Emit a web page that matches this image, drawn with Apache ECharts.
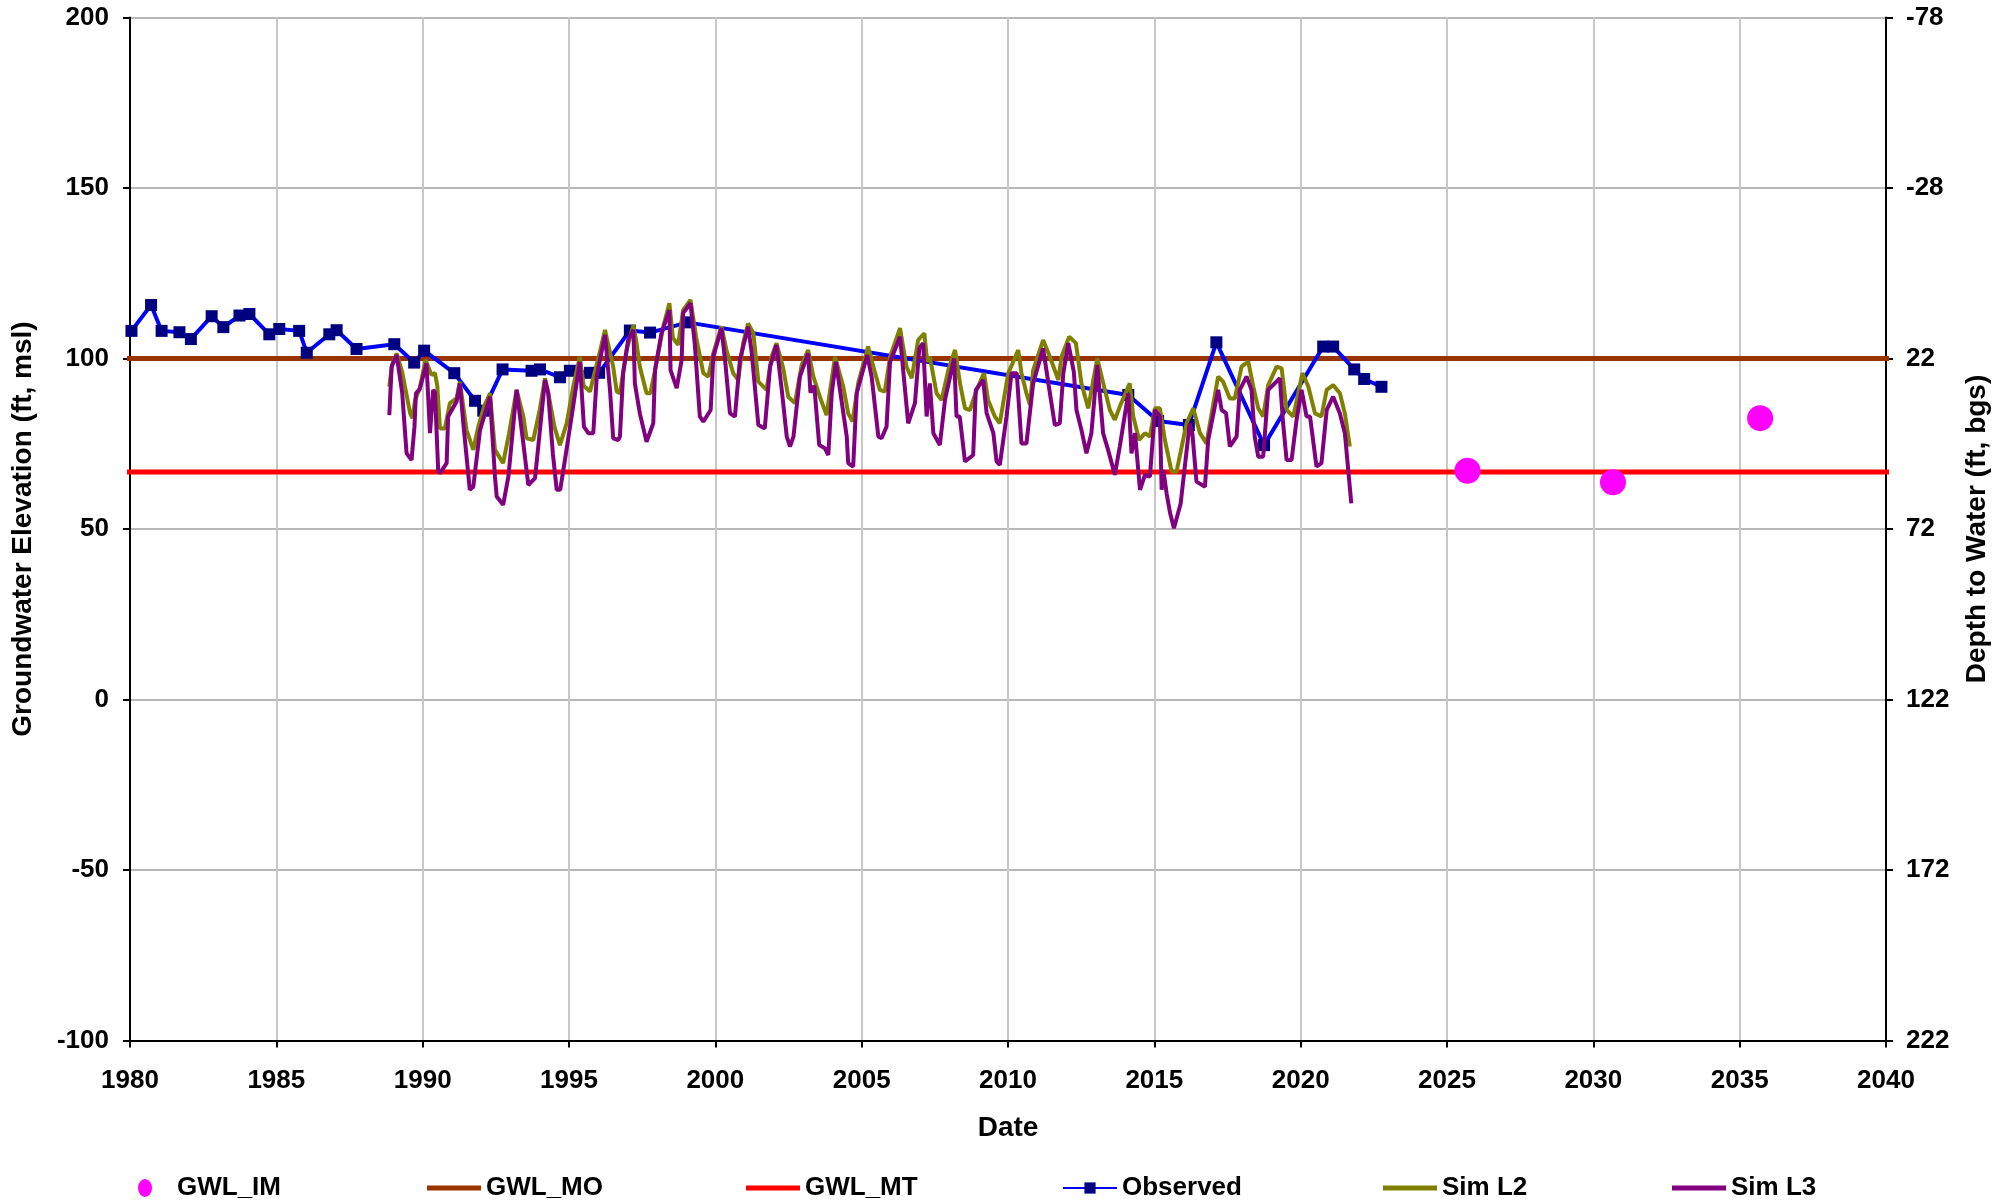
<!DOCTYPE html>
<html><head><meta charset="utf-8">
<script src="https://cdn.jsdelivr.net/npm/echarts@6/dist/echarts.min.js"></script>
<style>html,body{margin:0;padding:0;background:#fff}#c{width:2006px;height:1202px}</style>
</head><body><div id="c"></div>
<script>
// ---------- DATA ----------
const xTickLabels = ['1980','1985','1990','1995','2000','2005','2010','2015','2020','2025','2030','2035','2040'];
const leftTickLabels = ['-100','-50','0','50','100','150','200'];
const rightTickLabels = ['222','172','122','72','22','-28','-78'];

const gwlIM = [[2025.7,67.1],[2030.67,63.7],[2035.7,82.5]];
const gwlMO = [[1979.5,100],[2040.55,100]];
const gwlMT = [[1979.5,66.7],[2040.55,66.7]];

const observed = [[1979.45,107.6],[1980.05,108.1],[1980.72,115.7],[1981.08,108.1],[1981.69,107.7],[1982.08,105.7],[1982.79,112.4],[1983.19,109.2],[1983.74,112.6],[1984.08,113.05],[1984.76,107.1],[1985.1,108.65],[1985.78,108.1],[1986.04,101.7],[1986.81,107.1],[1987.06,108.3],[1987.74,102.8],[1989.03,104.2],[1989.71,98.8],[1990.05,102.3],[1991.08,95.7],[1991.79,87.6],[1992.07,84.7],[1992.73,96.8],[1993.72,96.4],[1994.01,96.8],[1994.69,94.5],[1995.03,96.4],[1995.72,95.8],[1996.03,95.8],[1997.08,108.2],[1997.77,107.6],[1999.05,110.6],[2014.11,89.3],[2015.13,81.7],[2016.18,80.5],[2017.12,104.75],[2018.75,74.6],[2020.77,103.5],[2021.11,103.5],[2021.83,96.8],[2022.17,94.0],[2022.76,91.7]];

const simL2 = [[1988.86,91.7],[1988.95,98],[1989.11,101.5],[1989.3,96],[1989.57,84],[1989.65,82.5],[1989.74,87.8],[1989.9,91.3],[1990.1,99.6],[1990.3,95.2],[1990.42,95.7],[1990.5,92],[1990.59,79.5],[1990.76,79.5],[1990.93,86.9],[1991.16,88.3],[1991.27,93.2],[1991.5,79],[1991.73,73.2],[1991.9,80],[1992.1,86],[1992.3,89.8],[1992.47,73.2],[1992.75,69.3],[1992.95,78],[1993.21,90.8],[1993.44,83],[1993.55,76.6],[1993.78,76.1],[1994.0,85],[1994.18,94.2],[1994.29,90],[1994.5,80],[1994.69,74.6],[1994.92,81],[1995.15,92],[1995.37,100.5],[1995.5,92],[1995.72,90.3],[1995.85,95],[1996.0,100],[1996.23,108.4],[1996.51,97.6],[1996.63,90.3],[1996.74,89.8],[1996.97,102.5],[1997.2,109.8],[1997.3,105],[1997.42,97.6],[1997.65,89.8],[1997.78,89.8],[1997.94,96.6],[1998.22,109.3],[1998.43,116.2],[1998.55,106],[1998.73,104],[1998.9,114.2],[1999.15,117.2],[1999.35,106],[1999.59,95.7],[1999.76,94.7],[1999.93,101.5],[2000.21,109.4],[2000.38,102.5],[2000.61,95.7],[2000.78,93.7],[2000.95,104.5],[2001.12,110.3],[2001.3,107.4],[2001.47,93.2],[2001.75,90.8],[2001.92,100.5],[2002.09,104.5],[2002.32,97.1],[2002.49,88.8],[2002.72,86.9],[2002.95,98.1],[2003.17,102.5],[2003.35,94.7],[2003.57,88.8],[2003.8,83.4],[2004.09,100.5],[2004.37,91.8],[2004.54,83.9],[2004.69,81.5],[2004.88,92.7],[2005.22,103.5],[2005.45,96],[2005.62,90.8],[2005.79,90.3],[2005.97,100.5],[2006.31,108.9],[2006.53,97.6],[2006.71,94.2],[2006.93,105.4],[2007.14,107.4],[2007.24,99],[2007.33,100.5],[2007.56,89.8],[2007.73,87.8],[2007.96,96.6],[2008.19,102.5],[2008.36,92.7],[2008.53,85.4],[2008.7,84.9],[2008.93,90.8],[2009.18,95.7],[2009.32,87.8],[2009.55,83],[2009.72,81],[2010.01,95.7],[2010.35,102.5],[2010.46,95.7],[2010.63,89.8],[2010.75,86.4],[2010.86,96.6],[2011.2,105.4],[2011.43,100.5],[2011.72,93.7],[2011.83,100.5],[2012.09,106.4],[2012.32,104.5],[2012.51,92.7],[2012.74,85.4],[2013.05,100],[2013.31,90.8],[2013.48,84.9],[2013.65,82],[2013.82,85.9],[2014.16,92.7],[2014.28,83],[2014.48,76.1],[2014.68,78.1],[2014.85,77.1],[2015.02,85.4],[2015.19,85.4],[2015.36,76.1],[2015.59,66.8],[2015.76,66.8],[2016.1,81],[2016.33,85.4],[2016.56,78.1],[2016.78,75.1],[2016.9,81],[2017.18,94.7],[2017.35,93.2],[2017.58,88.3],[2017.75,88.3],[2017.98,97.6],[2018.21,99.1],[2018.38,91.8],[2018.55,85.4],[2018.72,83],[2018.89,92.2],[2019.18,97.6],[2019.35,97.1],[2019.52,84.9],[2019.75,83],[2020.06,95.7],[2020.26,91.8],[2020.49,83.9],[2020.71,83],[2020.89,90.8],[2021.11,92.2],[2021.34,89.8],[2021.51,83.9],[2021.68,74.2]];

const simL3 = [[1988.86,83.4],[1988.94,97.6],[1989.11,101],[1989.3,90],[1989.45,72.2],[1989.62,70.2],[1989.72,80],[1989.77,89.8],[1989.9,91],[1990.13,98.6],[1990.25,78.1],[1990.36,90.8],[1990.42,90],[1990.53,67.3],[1990.59,66.3],[1990.82,69.3],[1990.87,83],[1991.16,87.4],[1991.27,92.7],[1991.4,80],[1991.61,61.5],[1991.73,62.4],[1991.96,79],[1992.3,88.8],[1992.47,65.4],[1992.53,59.5],[1992.75,57.1],[1992.93,65.4],[1993.21,90.8],[1993.44,75.1],[1993.61,62.9],[1993.84,64.9],[1994.18,93.7],[1994.29,89.8],[1994.45,72],[1994.58,61.5],[1994.7,61.5],[1994.86,70.2],[1995.09,83],[1995.37,99],[1995.51,80],[1995.66,78.1],[1995.83,78.1],[1995.95,95],[1996.23,106.9],[1996.4,90.8],[1996.51,76.6],[1996.68,76.1],[1996.74,77.1],[1996.85,95.7],[1997.02,105.4],[1997.2,108.4],[1997.25,92.7],[1997.42,83.9],[1997.65,75.6],[1997.88,81],[1997.94,96.6],[1998.16,107.4],[1998.43,114.2],[1998.47,96.6],[1998.68,91.3],[1998.85,99.6],[1998.9,113.3],[1999.15,116.2],[1999.3,104],[1999.47,83],[1999.59,81.5],[1999.84,84.9],[1999.93,100.5],[2000.21,108.9],[2000.35,98],[2000.5,83.9],[2000.67,83],[2000.84,99.6],[2001.12,109.3],[2001.24,102],[2001.47,80.5],[2001.69,79.5],[2001.87,97.6],[2002.09,104],[2002.27,90.8],[2002.44,77.1],[2002.55,74.2],[2002.67,77.1],[2002.89,94.7],[2003.17,101.5],[2003.25,90],[2003.38,92],[2003.55,74.6],[2003.74,73.7],[2003.86,71.7],[2003.98,90],[2004.12,99],[2004.31,87.8],[2004.49,77.1],[2004.54,69.3],[2004.71,68.3],[2004.83,89.8],[2005.19,101],[2005.34,94.7],[2005.57,77.1],[2005.68,76.6],[2005.85,80],[2005.97,99],[2006.31,106.4],[2006.59,81],[2006.82,86.9],[2006.97,103],[2007.1,104.5],[2007.22,83],[2007.33,92.7],[2007.45,78.1],[2007.67,74.6],[2007.85,88],[2008.16,100],[2008.24,83],[2008.35,83],[2008.53,69.8],[2008.81,71.7],[2008.9,90.8],[2009.15,93.7],[2009.27,84],[2009.5,78.1],[2009.61,69.8],[2009.72,68.8],[2009.95,83],[2010.12,95.7],[2010.3,95.7],[2010.46,75.1],[2010.63,75.1],[2010.86,92.7],[2011.2,103],[2011.38,92.7],[2011.6,80.5],[2011.77,81],[2011.89,95.7],[2012.06,104.5],[2012.25,96],[2012.34,84.9],[2012.51,79],[2012.68,72.2],[2012.85,78.1],[2013.05,98.1],[2013.25,78.1],[2013.42,73.2],[2013.65,65.9],[2013.82,74.2],[2014.11,89.8],[2014.22,72.2],[2014.34,78.1],[2014.51,61.5],[2014.68,65.9],[2014.85,65.4],[2015.02,84.9],[2015.19,83],[2015.25,61.5],[2015.31,67.3],[2015.42,60.4],[2015.54,54.6],[2015.67,50.2],[2015.9,57.5],[2015.99,64.4],[2016.21,81],[2016.3,78],[2016.44,63.9],[2016.73,62.4],[2016.84,76.1],[2017.18,90.8],[2017.3,84.9],[2017.45,84],[2017.58,74.2],[2017.81,77.1],[2017.92,90.8],[2018.15,94.7],[2018.32,90.8],[2018.43,77.1],[2018.55,71.2],[2018.72,71.2],[2018.89,90.8],[2019.29,94.2],[2019.4,81],[2019.52,70.2],[2019.69,70.2],[2019.86,82],[2020.03,90.8],[2020.2,83],[2020.32,83],[2020.54,68.3],[2020.71,69.3],[2020.89,84.9],[2021.11,88.8],[2021.34,83.9],[2021.51,78.1],[2021.73,57.5]];

// ---------- CHART ----------
const FONT = '"Liberation Sans", Arial, sans-serif';
const txt = {fontFamily: FONT, fontWeight: 'bold', fontSize: 26, color: '#000'};
const tick = {fontFamily: FONT, fontWeight: 'bold', fontSize: 26, color: '#000'};
const title = {fontFamily: FONT, fontWeight: 'bold', fontSize: 28, color: '#000'};
const chart = echarts.init(document.getElementById('c'), null, {renderer: 'canvas'});

function legendFor(name, left, extra) {
  return Object.assign({
    data: [name], left: left, top: 1175, padding: 0, orient: 'horizontal',
    itemWidth: 54, itemHeight: 14,
    textStyle: Object.assign({}, txt, {lineHeight: 26}),
    selectedMode: false
  }, extra || {});
}
const barIcon = 'path://M0,0 L54,0 L54,5 L0,5 Z';

const option = {
  animation: false,
  backgroundColor: '#fff',
  grid: {left: 130, right: 120, top: 17.5, bottom: 161.5, containLabel: false},
  legend: [
    legendFor('GWL_IM', 138, {itemWidth: 14, itemHeight: 18,
      icon: 'path://M7,0 A7,9 0 1,1 7,18 A7,9 0 1,1 7,0 Z',
      textStyle: Object.assign({}, txt, {lineHeight: 26, padding: [0,0,0,20]})}),
    legendFor('GWL_MO', 427, {icon: barIcon, itemHeight: 5}),
    legendFor('GWL_MT', 746, {icon: barIcon, itemHeight: 5}),
    legendFor('Observed', 1062, {itemHeight: 14}),
    legendFor('Sim L2', 1383, {icon: barIcon, itemHeight: 5}),
    legendFor('Sim L3', 1672, {icon: barIcon, itemHeight: 5})
  ],
  xAxis: {
    type: 'value', min: 1980, max: 2040, interval: 5,
    name: 'Date', nameLocation: 'middle', nameGap: 74, nameTextStyle: title,
    axisLine: {show: true, onZero: false, lineStyle: {color: '#000', width: 2}},
    axisTick: {show: true, length: 7, lineStyle: {color: '#000', width: 2}},
    axisLabel: Object.assign({}, tick, {margin: 27,
      formatter: v => xTickLabels[Math.round((v - 1980) / 5)]}),
    splitLine: {show: true, lineStyle: {color: '#c8c8c8', width: 2}}
  },
  yAxis: [{
    type: 'value', min: -100, max: 200, interval: 50, position: 'left',
    name: 'Groundwater Elevation (ft, msl)', nameLocation: 'middle', nameGap: 93, nameRotate: 90,
    nameTextStyle: title,
    axisLine: {show: true, onZero: false, lineStyle: {color: '#000', width: 2}},
    axisTick: {show: true, length: 7, lineStyle: {color: '#000', width: 2}},
    axisLabel: Object.assign({}, tick, {margin: 21,
      formatter: v => leftTickLabels[Math.round((v + 100) / 50)]}),
    splitLine: {show: true, lineStyle: {color: '#a0a0a0', width: 1.5}}
  }, {
    type: 'value', min: -100, max: 200, interval: 50, position: 'right',
    name: 'Depth to Water (ft, bgs)', nameLocation: 'middle', nameGap: 77, nameRotate: 90,
    nameTextStyle: title,
    axisLine: {show: true, onZero: false, lineStyle: {color: '#000', width: 2}},
    axisTick: {show: true, inside: false, length: 7, lineStyle: {color: '#000', width: 2}},
    axisLabel: Object.assign({}, tick, {margin: 20,
      formatter: v => rightTickLabels[Math.round((v + 100) / 50)]}),
    splitLine: {show: false}
  }],
  series: [
    {name: 'GWL_MO', type: 'line', data: gwlMO, symbol: 'none', clip: false,
     lineStyle: {color: '#993300', width: 5}, itemStyle: {color: '#993300'}, z: 2},
    {name: 'GWL_MT', type: 'line', data: gwlMT, symbol: 'none', clip: false,
     lineStyle: {color: '#ff0000', width: 5}, itemStyle: {color: '#ff0000'}, z: 2},
    {name: 'Observed', type: 'line', data: observed, symbol: 'rect', symbolSize: 12, clip: true,
     lineStyle: {color: '#0000ff', width: 4}, itemStyle: {color: '#000080'}, z: 3},
    {name: 'Sim L2', type: 'line', data: simL2, symbol: 'none',
     lineStyle: {color: '#808000', width: 4}, itemStyle: {color: '#808000'}, z: 4},
    {name: 'Sim L3', type: 'line', data: simL3, symbol: 'none',
     lineStyle: {color: '#800080', width: 4}, itemStyle: {color: '#800080'}, z: 5},
    {name: 'GWL_IM', type: 'scatter', data: gwlIM, symbol: 'circle', symbolSize: 26,
     itemStyle: {color: '#ff00ff', opacity: 1}, z: 6}
  ]
};
chart.setOption(option);
</script>
</body></html>
